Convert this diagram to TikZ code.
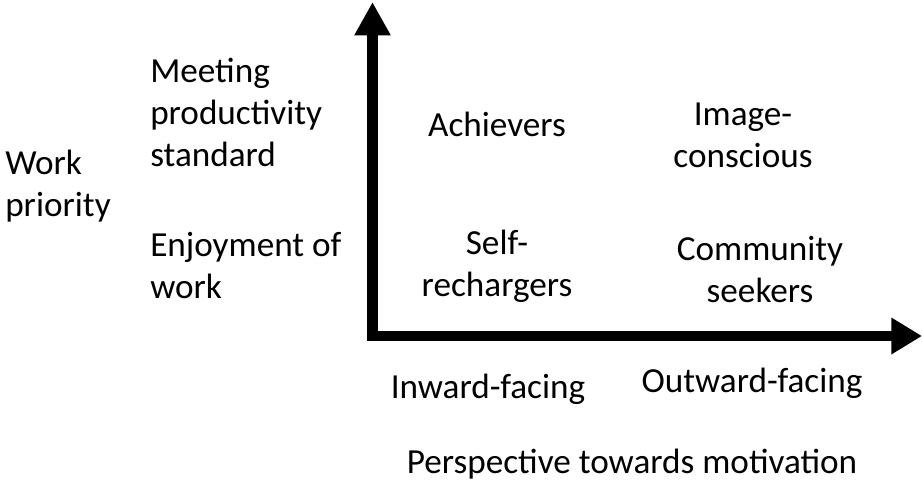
\documentclass[tikz,border=0pt]{standalone}
\usepackage{fontspec}
\setmainfont{Carlito}
\usepackage{tikz}
\usetikzlibrary{arrows.meta}

\begin{document}
\begin{tikzpicture}[x=0.75pt,y=-0.75pt,
  ax/.style={line width=8pt,{Triangle[length=25pt,width=25.5pt]}-{Triangle[length=23pt,width=26pt]}},
  lab/.style={font=\fontsize{26.4}{31.5}\selectfont,inner sep=0pt},
  row/.style={lab,anchor=west,align=left},
  cell/.style={lab,align=center}]
\useasboundingbox (0,0) rectangle (922,482);
\coordinate (ytip) at (372.5,2);
\coordinate (xtip) at (922,336);
\draw[ax] (ytip) |- (xtip);
\node[row] (wp) at (5,186) {Work\\priority};
\node[row] (mps) at (150,112) {Meeting\\productivity\\standard};
\node[row] (eow) at (150,266) {Enjoyment of\\work};
\node[cell] (ach) at (497,124) {Achievers};
\node[cell] (img) at (743,135) {Image-\\conscious};
\node[cell] (self) at (497,266) {Self-\\rechargers};
\node[cell] (comm) at (760,270) {Community\\seekers};
\node[cell] (inw) at (488,389) {Inward-facing};
\node[cell] (outw) at (752,383) {Outward-facing};
\node[cell] (persp) at (632,464) {Perspective towards motivation};
\end{tikzpicture}
\end{document}
